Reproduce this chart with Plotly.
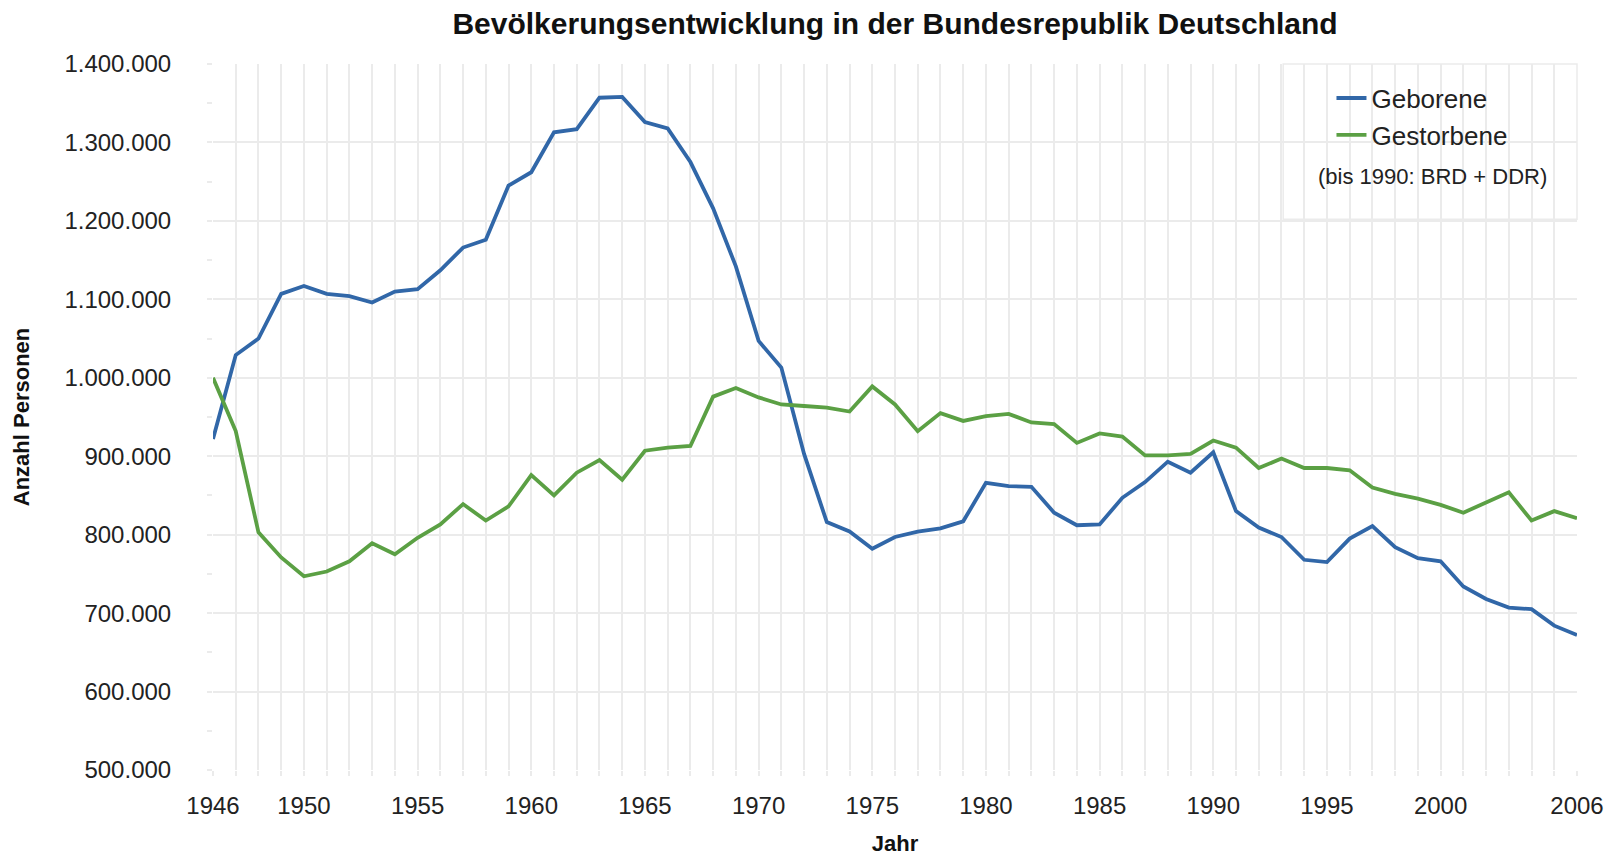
import plotly.graph_objects as go

# Jahre 1946 bis 2006
years = list(range(1946, 2007))

# Lebendgeborene (bis 1990: BRD + DDR)
geborene = [
    922000, 1029000, 1050000, 1107000, 1117000, 1107000, 1104000, 1096000, 1110000, 1113000,
    1137000, 1166000, 1176000, 1245000, 1262000, 1313000, 1317000, 1357000, 1358000, 1326000,
    1318000, 1275000, 1216000, 1142000, 1047000, 1013000, 903000, 816000, 804000, 782000,
    797000, 804000, 808000, 817000, 866000, 862000, 861000, 828000, 812000, 813000,
    847000, 867000, 893000, 879000, 905000, 830000, 809000, 797000, 768000, 765000,
    795000, 811000, 784000, 770000, 766000, 734000, 718000, 707000, 705000, 684000,
    672000,
]

# Gestorbene
gestorbene = [
    1000000, 932000, 803000, 771000, 747000, 753000, 766000, 789000, 775000, 796000,
    813000, 839000, 818000, 836000, 876000, 850000, 879000, 895000, 870000, 907000,
    911000, 913000, 976000, 987000, 975000, 966000, 964000, 962000, 957000, 989000,
    966000, 932000, 955000, 945000, 951000, 954000, 943000, 941000, 917000, 929000,
    925000, 901000, 901000, 903000, 920000, 911000, 885000, 897000, 885000, 885000,
    882000, 860000, 852000, 846000, 838000, 828000, 841000, 854000, 818000, 830000,
    821000,
]

labeled_years = [1946, 1950, 1955, 1960, 1965, 1970, 1975, 1980, 1985, 1990, 1995, 2000, 2006]
x_ticktext = [str(y) if y in labeled_years else "" for y in years]

BLUE = "#3167a8"
GREEN = "#5ba044"
GRID = "#ebebeb"
FONT = "Liberation Sans, Arial, sans-serif"

# the page body has an 8px margin, so the figure is 8px smaller than the window
W, H = 1610, 848

fig = go.Figure()
fig.add_trace(go.Scatter(
    x=years, y=geborene, mode="lines", name="Geborene",
    line=dict(color=BLUE, width=3.8),
))
fig.add_trace(go.Scatter(
    x=years, y=gestorbene, mode="lines", name="Gestorbene",
    line=dict(color=GREEN, width=3.8),
))

# white legend box covering the grid in the upper right corner
fig.add_shape(
    type="rect", xref="paper", yref="paper",
    x0=0.7846, x1=1.0, y0=0.780, y1=1.0,
    fillcolor="white", line=dict(color=GRID, width=1.5),
    layer="between",
)

fig.add_annotation(
    text="(bis 1990: BRD + DDR)",
    xref="paper", yref="paper", x=0.894, y=0.840,
    xanchor="center", yanchor="middle",
    showarrow=False, font=dict(size=22, color="#222222", family=FONT),
)

fig.update_layout(
    width=W, height=H,
    paper_bgcolor="white", plot_bgcolor="white",
    separators=",.",
    font=dict(family=FONT, color="#222222"),
    title=dict(
        text="<b>Bevölkerungsentwicklung in der Bundesrepublik Deutschland</b>",
        x=0.5, xref="paper", y=1 - 15 / H, yref="container", yanchor="middle",
        font=dict(size=30, color="#111111"),
    ),
    margin=dict(l=205, r=41, t=56, b=86),
    showlegend=True,
    legend=dict(
        x=0.820, y=0.985, xanchor="left", yanchor="top",
        bgcolor="rgba(0,0,0,0)", borderwidth=0,
        font=dict(size=26, color="#222222"),
        itemwidth=30, tracegroupgap=0,
    ),
    xaxis=dict(
        range=[1946, 2006],
        tickvals=years, ticktext=x_ticktext,
        showgrid=True, gridcolor=GRID, gridwidth=1.5,
        ticks="outside", ticklen=5, tickcolor=GRID, tickwidth=1.5,
        tickfont=dict(size=24, color="#222222"),
        ticklabelstandoff=9,
        zeroline=False, showline=False, automargin=False,
        title=dict(text="<b>Jahr</b>", font=dict(size=22, color="#111111"), standoff=20),
    ),
    yaxis=dict(
        range=[500000, 1400000],
        dtick=100000, tickformat=",d",
        showgrid=True, gridcolor=GRID, gridwidth=1.5,
        ticks="outside", ticklen=5, tickcolor=GRID, tickwidth=1.5,
        minor=dict(dtick=50000, ticks="outside", ticklen=5, tickcolor=GRID, showgrid=False),
        tickfont=dict(size=24, color="#222222"),
        ticklabelstandoff=31,
        zeroline=False, showline=False, automargin=False,
        title=dict(text="<b>Anzahl Personen</b>", font=dict(size=22, color="#111111"), standoff=28),
    ),
)

fig.write_html("out.html")
